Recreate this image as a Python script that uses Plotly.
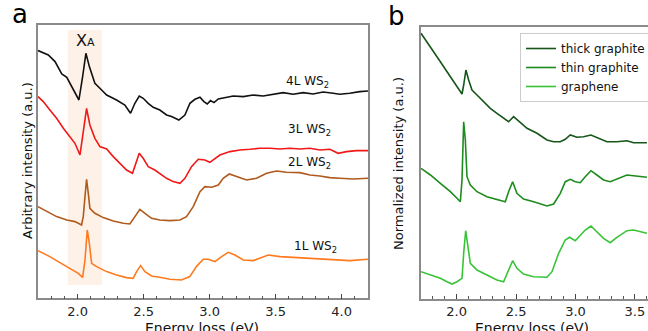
import plotly.graph_objects as go

# ---------------- Panel a data (Energy loss eV, arbitrary intensity) ----------------
x4L = [1.70, 1.778, 1.829, 1.88, 1.918, 1.968, 2.01, 2.038, 2.063, 2.089, 2.131, 2.169, 2.22, 2.295,
       2.358, 2.401, 2.434, 2.467, 2.497, 2.535, 2.573, 2.623, 2.674, 2.712, 2.767, 2.813, 2.851, 2.889,
       2.927, 2.957, 2.982, 3.007, 3.033, 3.066, 3.129, 3.179, 3.255, 3.33, 3.406, 3.48, 3.557, 3.633,
       3.709, 3.784, 3.86, 3.936, 3.986, 4.062, 4.138, 4.2]
y4L = [247.7, 243.3, 236.7, 224.3, 221, 208.3, 198.3, 221.7, 245, 231.7, 215, 210, 203.3, 198.3,
       193.3, 185, 195, 202.3, 200, 195, 191, 188.3, 183.3, 181.7, 178.3, 183.3, 195, 199,
       201, 196.7, 194.3, 197.7, 195.7, 199.3, 201, 202.3, 201.7, 203.3, 202.3, 204.3, 205.7, 204,
       205.7, 204.3, 206.3, 205, 204, 205, 206.7, 207.3]

x3L = [1.70, 1.74, 1.79, 1.841, 1.892, 1.942, 1.98, 2.018, 2.043, 2.068, 2.093, 2.131, 2.169, 2.22,
       2.27, 2.32, 2.371, 2.416, 2.442, 2.467, 2.497, 2.535, 2.585, 2.623, 2.674, 2.724, 2.775, 2.813,
       2.863, 2.914, 2.964, 3.002, 3.04, 3.078, 3.154, 3.23, 3.306, 3.381, 3.457, 3.533, 3.608, 3.684,
       3.76, 3.836, 3.911, 3.974, 4.037, 4.113, 4.2]
y3L = [201.7, 196.7, 188.3, 180, 170, 161.7, 155, 143.3, 165, 190, 173.3, 160, 151.7, 149.3,
       141.7, 135, 128.3, 125, 135, 145, 140, 131.7, 128.3, 125, 120, 116.7, 115, 120,
       131.7, 139, 138.3, 136, 140, 143.3, 146.7, 148.3, 149, 150, 150, 149.3, 150, 149.3,
       150, 148.3, 149, 145, 146.7, 147.7, 147.7]

x2L = [1.70, 1.766, 1.841, 1.918, 1.98, 2.03, 2.043, 2.056, 2.068, 2.081, 2.093, 2.131, 2.194, 2.27,
       2.346, 2.396, 2.434, 2.472, 2.51, 2.56, 2.623, 2.699, 2.775, 2.825, 2.876, 2.927, 2.964, 3.015,
       3.066, 3.103, 3.149, 3.205, 3.28, 3.356, 3.432, 3.507, 3.583, 3.684, 3.76, 3.836, 3.911, 3.987,
       4.087, 4.2]
y2L = [91.7, 86.7, 81.7, 78.3, 76.7, 73.3, 81.7, 101.7, 119, 105, 90, 85, 80.7, 77.3,
       75, 74.3, 81.7, 89, 85, 80, 78.3, 77.7, 78.3, 81.7, 91.7, 106.7, 111.7, 111,
       113.3, 120, 124.3, 121.7, 118.3, 120, 125, 127.3, 126, 125.7, 123.3, 122.3, 120.7, 120,
       119.3, 120]

x1L = [1.70, 1.79, 1.866, 1.942, 2.005, 2.038, 2.056, 2.073, 2.089, 2.106, 2.144, 2.22, 2.295, 2.371,
       2.421, 2.447, 2.477, 2.51, 2.56, 2.623, 2.699, 2.787, 2.85, 2.9, 2.952, 2.99, 3.04, 3.091,
       3.141, 3.192, 3.255, 3.33, 3.406, 3.444, 3.533, 3.633, 3.734, 3.836, 3.936, 4.062, 4.2]
y1L = [47.7, 41.7, 35.7, 30, 25, 21, 38.3, 68.3, 55, 35, 31.7, 26.7, 23.3, 20.7,
       20, 26.7, 32.7, 26.7, 22.3, 21, 19, 18.3, 21.7, 31.7, 39, 39, 36.7, 41.7,
       46, 43.3, 38.3, 37.7, 41.7, 43.3, 41.7, 41, 40, 39, 38.3, 37.7, 39]

labels_a = ["4L WS<sub>2</sub>", "3L WS<sub>2</sub>", "2L WS<sub>2</sub>", "1L WS<sub>2</sub>"]
label_x_a = [3.74, 3.76, 3.76, 3.80]
label_y_a = [216.7, 168.3, 135, 51.7]

# ---------------- Panel b data ----------------
x_thick = [1.70, 1.75, 1.807, 1.863, 1.919, 1.975, 2.017, 2.045, 2.059, 2.078, 2.101, 2.129, 2.171, 2.227,
           2.283, 2.339, 2.395, 2.437, 2.479, 2.521, 2.592, 2.676, 2.76, 2.816, 2.872, 2.914, 2.956, 3.012,
           3.068, 3.13, 3.194, 3.264, 3.348, 3.433, 3.489, 3.545, 3.601]
y_thick = [265.7, 257.3, 247.3, 237.3, 227.3, 217.3, 209, 205, 214, 229, 219, 209, 204, 197.3,
           190.7, 185.7, 180.7, 177.3, 182.3, 178.3, 170.7, 165.7, 159, 157.3, 157.3, 159.7, 164, 161.7,
           162.3, 164, 160.7, 157.3, 157.3, 158.3, 156.3, 156.3, 156.3]

x_thin = [1.70, 1.779, 1.863, 1.947, 2.003, 2.031, 2.045, 2.059, 2.073, 2.087, 2.115, 2.171, 2.255, 2.339,
          2.409, 2.437, 2.471, 2.507, 2.563, 2.648, 2.76, 2.816, 2.872, 2.914, 2.956, 2.998, 3.04, 3.082,
          3.13, 3.18, 3.236, 3.292, 3.348, 3.433, 3.489, 3.601]
y_thin = [130.7, 124, 115.7, 107.3, 100.7, 97.3, 119, 177.3, 159, 122.3, 114, 107.3, 102.3, 99.7,
          97.3, 107.3, 117.3, 105.7, 100, 97.3, 93, 95, 105.7, 117.3, 119.7, 117.3, 116.3, 122.3,
          128.3, 124, 119, 117.3, 119.7, 124, 123.3, 121.7]

x_gr = [1.70, 1.779, 1.863, 1.919, 1.961, 2.003, 2.045, 2.059, 2.076, 2.095, 2.115, 2.171, 2.255, 2.339,
        2.395, 2.437, 2.471, 2.507, 2.563, 2.648, 2.76, 2.802, 2.858, 2.914, 2.95, 2.998, 3.04, 3.082,
        3.13, 3.18, 3.236, 3.292, 3.348, 3.433, 3.489, 3.601]
y_gr = [27.3, 24, 20.7, 17.3, 15, 17.3, 20.7, 45.7, 68.3, 52.3, 35.7, 29, 24, 19,
        17.3, 29, 38.3, 30.7, 25, 22.3, 21.7, 27.3, 45.7, 59, 61.7, 58.3, 64, 69,
        73, 67.3, 60.7, 56.3, 61.7, 68.3, 69, 65.7]

names_b = ["thick graphite", "thin graphite", "graphene"]
ticks_a = [2.0, 2.5, 3.0, 3.5, 4.0]
ticks_b = [2.0, 2.5, 3.0, 3.5]

FONT = "DejaVu Sans"
W, H = 648, 331

fig = go.Figure()
colors_a = ["#111111", "#f01818", "#b05a1e", "#ff7a1e"]
for xs, ys, c in zip([x4L, x3L, x2L, x1L], [y4L, y3L, y2L, y1L], colors_a):
    fig.add_trace(go.Scatter(x=xs, y=ys, mode="lines", line=dict(color=c, width=1.6),
                             showlegend=False, xaxis="x", yaxis="y"))

colors_b = ["#16561a", "#1d8c1d", "#38c338"]
for xs, ys, c, n in zip([x_thick, x_thin, x_gr], [y_thick, y_thin, y_gr], colors_b, names_b):
    fig.add_trace(go.Scatter(x=xs, y=ys, mode="lines", name=n, line=dict(color=c, width=1.6),
                             xaxis="x2", yaxis="y2"))

# highlight band
fig.add_shape(type="rect", xref="x", yref="y", x0=1.925, x1=2.184, y0=13.3, y1=268.3,
              fillcolor="#fdf1e8", line=dict(width=0), layer="below")

for t, xx, yy in zip(labels_a, label_x_a, label_y_a):
    fig.add_annotation(x=xx, y=yy, xref="x", yref="y", text=t, showarrow=False,
                       xanchor="center", yanchor="middle",
                       font=dict(family=FONT, size=12, color="#111"))
fig.add_annotation(x=2.06, y=258, xref="x", yref="y", xanchor="center", yanchor="middle",
                   text="X<span style='font-size:11px'>A</span>", showarrow=False,
                   font=dict(family=FONT, size=16, color="#111"))

# panel letters
fig.add_annotation(x=20 / W, y=1 - 14 / H, xref="paper", yref="paper", text="a", showarrow=False,
                   xanchor="center", yanchor="middle", font=dict(family=FONT, size=26, color="#000"))
fig.add_annotation(x=397 / W, y=1 - 16 / H, xref="paper", yref="paper", text="b", showarrow=False,
                   xanchor="center", yanchor="middle", font=dict(family=FONT, size=26, color="#000"))

# axis titles
fig.add_annotation(x=27 / W, y=1 - 161 / H, xref="paper", yref="paper", text="Arbitrary intensity (a.u.)",
                   xanchor="center", yanchor="middle",
                   textangle=-90, showarrow=False, font=dict(family=FONT, size=13, color="#111"))
fig.add_annotation(x=398 / W, y=1 - 163 / H, xref="paper", yref="paper", text="Normalized intensity (a.u.)",
                   xanchor="center", yanchor="middle",
                   textangle=-90, showarrow=False, font=dict(family=FONT, size=13, color="#111"))
fig.add_annotation(x=202 / W, y=1 - 318 / H, xref="paper", yref="paper", text="Energy loss (eV)",
                   xanchor="center", yanchor="top", showarrow=False, font=dict(family=FONT, size=14, color="#111"))
fig.add_annotation(x=532 / W, y=1 - 318 / H, xref="paper", yref="paper", text="Energy loss (eV)",
                   xanchor="center", yanchor="top", showarrow=False, font=dict(family=FONT, size=14, color="#111"))

ax_common = dict(showgrid=False, zeroline=False, showline=True, linecolor="#8a8a8a", linewidth=1.5,
                 ticks="inside", ticklen=5, tickwidth=1, tickcolor="#444", automargin=False,
                 tickfont=dict(family=FONT, size=13, color="#222"),
                 minor=dict(ticks="inside", ticklen=3, tickwidth=1, tickcolor="#555", dtick=0.1, tick0=0),
                 mirror=True, ticklabelstandoff=0)
y_common = dict(showgrid=False, zeroline=False, showline=True, linecolor="#8a8a8a", linewidth=1.5,
                showticklabels=False, ticks="", automargin=False)

fig.update_layout(
    width=W, height=H, margin=dict(l=0, r=0, t=0, b=0, autoexpand=False),
    paper_bgcolor="white", plot_bgcolor="white",
    xaxis=dict(domain=[38 / W, 368 / W], range=[1.7, 4.2], tickvals=ticks_a,
               ticktext=[f"{v:.1f}" for v in ticks_a], anchor="y", **ax_common),
    yaxis=dict(domain=[(H - 298.3) / H, (H - 25) / H], range=[0, 273.3], anchor="x", mirror=True, **y_common),
    xaxis2=dict(domain=[421 / W, 1.0], range=[1.7, 3.61], tickvals=ticks_b,
                ticktext=[f"{v:.1f}" for v in ticks_b], anchor="y2", **ax_common),
    yaxis2=dict(domain=[(H - 299) / H, (H - 26.7) / H], range=[0, 272.3], anchor="x2", mirror=False, **y_common),
    legend=dict(x=520 / W, y=1 - 33 / H, xanchor="left", yanchor="top",
                bgcolor="white", bordercolor="#cccccc", borderwidth=1,
                font=dict(family=FONT, size=12, color="#111"), tracegroupgap=0, itemwidth=30),
    font=dict(family=FONT),
)

fig.write_html("out.html", config={"displayModeBar": False},
               post_script="document.body.style.margin='0';document.body.style.overflow='hidden';")
